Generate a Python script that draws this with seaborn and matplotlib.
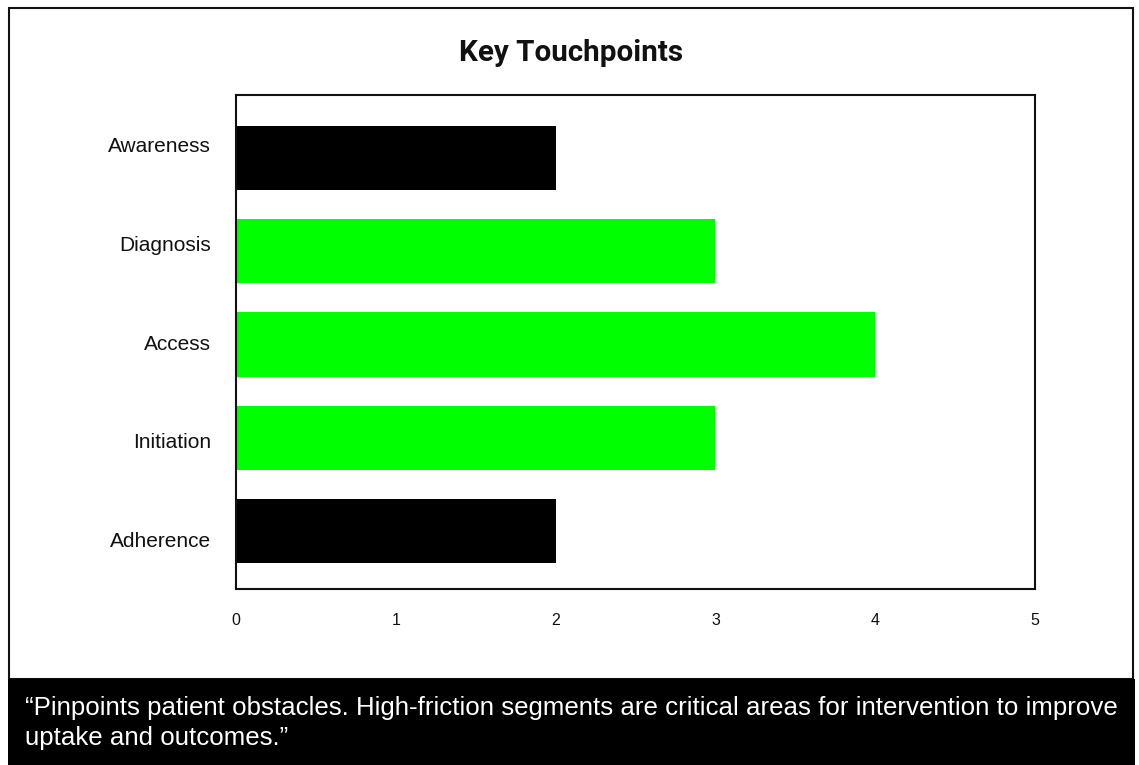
import matplotlib
matplotlib.use("Agg")
import matplotlib.pyplot as plt
import seaborn as sns
import pandas as pd
from matplotlib.patches import Rectangle

# Journey stages and their friction scores
stages = ["Awareness", "Diagnosis", "Access", "Initiation", "Adherence"]
friction = [2, 3, 4, 3, 2]
bar_colors = ["#000000", "#00ff00", "#00ff00", "#00ff00", "#000000"]
x_ticks = [0, 1, 2, 3, 4, 5]
title = "Key Touchpoints"
caption_lines = [
    "\u201cPinpoints patient obstacles. High-friction segments are critical areas for intervention to improve",
    "uptake and outcomes.\u201d",
]

sns.set_theme(style="white")
plt.rcParams["font.family"] = ["Liberation Sans", "DejaVu Sans"]

W, H = 1139, 765
fig = plt.figure(figsize=(W / 100, H / 100), dpi=100)
fig.patch.set_facecolor("white")

# Plot area in pixel terms
left, right, top, bottom = 236, 1035, 95, 589
ax = fig.add_axes([left / W, 1 - bottom / H, (right - left) / W, (bottom - top) / H])

df = pd.DataFrame({"stage": stages, "friction": friction})
sns.barplot(
    data=df, x="friction", y="stage", hue="stage",
    palette=dict(zip(stages, bar_colors)), saturation=1,
    width=0.69, legend=False, linewidth=0, ax=ax,
)

ax.set_xlim(0, 5)
ax.set_ylim(4.62, -0.675)
ax.set_xticks(x_ticks)
ax.set_xticklabels([str(t) for t in x_ticks])
ax.set_xlabel("")
ax.set_ylabel("")
ax.grid(False)
ax.tick_params(axis="y", length=0, labelleft=False)
ax.tick_params(axis="x", length=0, pad=17, labelsize=11.5, labelcolor="#111111")
for sp in ax.spines.values():
    sp.set_visible(True)
    sp.set_linewidth(1.5)
    sp.set_color("#111111")

# Category labels sit in equal bands along the left edge
lab = ax.twinx()
lab.set_ylim(len(stages) - 0.5, -0.5)
lab.set_yticks(range(len(stages)))
lab.set_yticklabels(stages)
lab.yaxis.set_ticks_position("left")
lab.yaxis.set_label_position("left")
lab.tick_params(axis="y", length=0, pad=18, labelsize=15, labelcolor="#111111",
                labelleft=True, labelright=False)
lab.grid(False)
for sp in lab.spines.values():
    sp.set_visible(False)

# Title
fig.text(571.5 / W, 1 - 61 / H, title, ha="center", va="baseline",
         fontsize=21.3, fontweight="bold", color="#111111",
         family=["Roboto", "DejaVu Sans"])

# Frame around the chart panel
fig.add_artist(Rectangle((9 / W, 1 - 679 / H), (1133 - 9) / W, (679 - 8) / H,
                         transform=fig.transFigure, fill=False,
                         linewidth=1.5, edgecolor="#111111"))

# Caption band
fig.add_artist(Rectangle((8 / W, 0), (1135 - 8) / W, (765 - 679) / H,
                         transform=fig.transFigure, facecolor="black",
                         edgecolor="none"))
for i, line in enumerate(caption_lines):
    fig.text(25 / W, 1 - (715 + 30 * i) / H, line, ha="left", va="baseline",
             fontsize=18.65, color="white")

fig.savefig("out.png", dpi=100)
